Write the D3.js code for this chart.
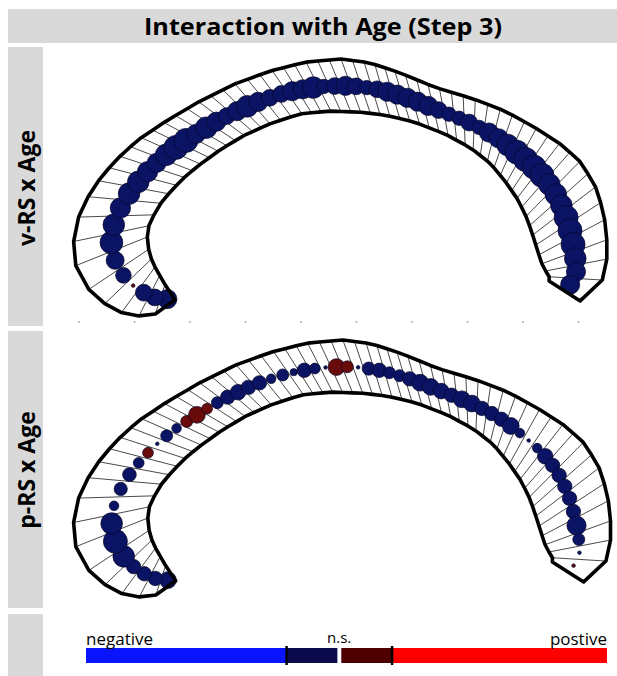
<!DOCTYPE html>
<html>
<head>
<meta charset="utf-8">
<script src="https://cdnjs.cloudflare.com/ajax/libs/d3/7.8.5/d3.min.js"></script>
<style>
body { margin: 0; background: #fff; }
text { font-family: "Open Sans", "Noto Sans", sans-serif; }
</style>
</head>
<body>
<svg id="chart" width="617" height="676"></svg>
<script>
// outline of the callosum, from the anterior tip (left hook) round to the posterior end
var outerX = [17.3,15.1,12.4,9.2,6.1,3.2,0.9,-0.5,-1.1,-0.7,0.4,2.0,4.1,7.0,10.6,15.7,21.8,28.1,34.4,40.7,47.0,52.4,57.8,64.1,70.5,76.8,82.2,87.0,90.6,93.2,94.6,95.1,95.1,93.7,90.3];
var outerY = [4.0,1.8,1.1,1.1,2.3,4.3,6.8,9.7,13.3,16.9,20.4,23.2,26.3,29.5,32.8,36.2,39.8,42.9,45.2,46.8,47.4,46.7,44.9,42.3,40.4,38.0,35.0,31.9,28.6,24.1,19.5,14.8,10.3,5.6,3.8];
var innerX = [17.1,16.0,15.0,14.1,13.3,12.8,12.4,12.3,12.4,13.0,13.9,15.0,16.6,18.7,21.4,25.4,29.9,34.4,39.8,45.2,50.6,55.1,60.5,65.9,70.5,74.1,76.9,79.1,80.7,81.8,82.7,83.4,84.3,85.0,84.7];
var innerY = [4.3,5.9,7.6,9.2,10.6,12.1,13.7,15.1,16.8,18.4,20.0,21.8,23.6,25.8,28.1,31.0,33.7,35.7,37.5,38.0,37.8,37.3,36.0,33.9,31.4,28.6,25.2,22.0,18.7,15.5,12.6,10.5,8.8,7.7,7.4];
// segment number reached at each outline vertex
var outlineSegment = [0,0.5,1.5,2.5,3.5,4.5,5.3,5.9,6.7,7.6,8.3,9.2,10.3,11.8,13.7,16.2,19.1,22.0,24.8,27.9,30.9,33.5,36.5,39.6,42.6,45.4,47.9,50.2,52.2,54.1,55.7,57.0,58.3,59.5,60];

// per segment effect size and sign (-1 negative n.s., 1 positive n.s.)
var vEffect = [.8,.7,.7,.15,.65,.75,.95,.9,.85,.9,.9,.85,.8,.9,1,1,.8,.9,.8,.7,.8,.9,.8,.7,.7,.8,.8,.9,
               .6,.7,.8,.7,.6,.7,.8,.8,.8,.8,.8,.7,.6,.6,.7,.6,.8,.8,.9,1,1,1,1,.9,.9,.9,1,1,1,.9,.8,.8];
var vSign = [-1,-1,-1,1,-1,-1,-1,-1,-1,-1,-1,-1,-1,-1,-1,-1,-1,-1,-1,-1,-1,-1,-1,-1,-1,-1,-1,-1,
             -1,-1,-1,-1,-1,-1,-1,-1,-1,-1,-1,-1,-1,-1,-1,-1,-1,-1,-1,-1,-1,-1,-1,-1,-1,-1,-1,-1,-1,-1,-1,-1];
var pEffect = [.7,.6,.6,.6,.9,1,.9,.4,.55,.57,.45,.45,.15,.5,.4,.5,.7,.45,.5,.6,.65,.6,.6,.4,.5,.3,.6,.45,
               .15,.7,.5,.15,.55,.6,.5,.5,.6,.7,.7,.65,.6,.7,.7,.6,.6,.6,.7,.4,.15,.4,.65,.6,.6,.6,.6,.6,.8,.5,.15,.15];
var pSign = [-1,-1,-1,-1,-1,-1,-1,-1,-1,-1,-1,1,-1,-1,-1,1,1,1,-1,-1,-1,-1,-1,-1,-1,-1,-1,-1,
             -1,1,1,-1,-1,-1,-1,-1,-1,-1,-1,-1,-1,-1,-1,-1,-1,-1,-1,-1,-1,-1,-1,-1,-1,-1,-1,-1,-1,-1,-1,1];

var panelLabels = ["v-RS x Age", "p-RS x Age"];
var xTicks = [0,10,20,30,40,50,60,70,80,90];
var legendLabels = ["negative", "n.s.", "postive"];
var legendEdges = [[-1,-0.23],[-0.23,-0.035],[-0.02,0.175],[0.175,1]];
var legendColors = ["#0a14ff","#0a0a4c","#4e0000","#ff0000"];

var svg = d3.select("#chart");
var grey = "#d9d9d9";

// header and side panels
svg.append("rect").attr("x", 8).attr("y", 9).attr("width", 609).attr("height", 34).attr("fill", grey);
svg.append("text")
   .attr("x", 323).attr("y", 35)
   .attr("text-anchor", "middle")
   .attr("font-size", "24px")
   .attr("font-weight", "bold")
   .attr("textLength", 358)
   .attr("lengthAdjust", "spacingAndGlyphs")
   .attr("fill", "#000")
   .text("Interaction with Age (Step 3)");

var sideBoxes = [[47,279],[331,277],[614,62]];
sideBoxes.forEach(function(b){
    svg.append("rect").attr("x", 8).attr("y", b[0]).attr("width", 35).attr("height", b[1]).attr("fill", grey);
});

// cut the outline into segments at the vertex segment numbers
var N = vEffect.length;
var lines = d3.range(N + 1).map(function(i){
    var k = Math.min(Math.max(d3.bisectRight(outlineSegment, i) - 1, 0), outlineSegment.length - 2);
    var t = (i - outlineSegment[k]) / (outlineSegment[k+1] - outlineSegment[k]);
    return {
        ox: outerX[k] + t * (outerX[k+1] - outerX[k]),
        oy: outerY[k] + t * (outerY[k+1] - outerY[k]),
        ix: innerX[k] + t * (innerX[k+1] - innerX[k]),
        iy: innerY[k] + t * (innerY[k+1] - innerY[k])
    };
});
var cells = d3.range(N).map(function(i){
    var a = lines[i], b = lines[i+1];
    return { x: (a.ox + a.ix + b.ox + b.ix) / 4, y: (a.oy + a.iy + b.oy + b.iy) / 4 };
});

var rScale = d3.scaleLinear().domain([0, 1]).range([0, 12]);
var color = d3.scaleOrdinal().domain([-1, 1]).range(["#0b1464", "#6a0b0b"]);

function drawPanel(p, effect, sign, top, xRight) {
    var x = d3.scaleLinear().domain([0, 90]).range([79, xRight]),
        y = d3.scaleLinear().domain([0, 47]).range([top, top - 47 * 5.55]);
    var g = svg.append("g");

    if (p == 0) {
        g.selectAll(".tick")
         .data(xTicks)
         .enter().append("circle")
         .attr("cx", function(d){ return x(d); })
         .attr("cy", y(0))
         .attr("r", 0.9)
         .attr("fill", "#aaa");
    }

    // outline vertices are the segment ends
    var outline = lines.map(function(d){ return [x(d.ox), y(d.oy)]; })
        .concat(lines.slice().reverse().map(function(d){ return [x(d.ix), y(d.iy)]; }));

    g.selectAll(".seg")
     .data(lines)
     .enter().append("line")
     .attr("x1", function(d){ return x(d.ox); })
     .attr("y1", function(d){ return y(d.oy); })
     .attr("x2", function(d){ return x(d.ix); })
     .attr("y2", function(d){ return y(d.iy); })
     .attr("stroke", "#4a4a4a")
     .attr("stroke-width", 1);

    g.selectAll(".dot")
     .data(cells)
     .enter().append("circle")
     .attr("cx", function(d){ return x(d.x); })
     .attr("cy", function(d){ return y(d.y); })
     .attr("r", function(d, i){ return rScale(effect[i]); })
     .attr("fill", function(d, i){ return color(sign[i]); })
     .attr("stroke", "#050525")
     .attr("stroke-width", 0.7);

    g.append("path")
     .attr("d", d3.line()(outline) + "Z")
     .attr("fill", "none")
     .attr("stroke", "#000")
     .attr("stroke-width", 3.6)
     .attr("stroke-linejoin", "round");

    svg.append("text")
       .attr("transform", "translate(35," + (p == 0 ? 188 : 470) + ") rotate(-90)")
       .attr("text-anchor", "middle")
       .attr("font-size", "23px")
       .attr("font-weight", "bold")
       .attr("fill", "#000")
       .text(panelLabels[p]);
}

drawPanel(0, vEffect, vSign, 322, 578.5);
drawPanel(1, pEffect, pSign, 603, 582);

// legend bar
var lx = d3.scaleLinear().domain([-1, 1]).range([86, 607]);
var lg = svg.append("g");
lg.selectAll("rect")
  .data(legendEdges)
  .enter().append("rect")
  .attr("x", function(d){ return lx(d[0]); })
  .attr("y", 648)
  .attr("width", function(d){ return lx(d[1]) - lx(d[0]); })
  .attr("height", 15)
  .attr("fill", function(d, i){ return legendColors[i]; });
lg.selectAll(".cut")
  .data([legendEdges[0][1], legendEdges[2][1]])
  .enter().append("line")
  .attr("x1", function(d){ return lx(d); })
  .attr("x2", function(d){ return lx(d); })
  .attr("y1", 646).attr("y2", 665)
  .attr("stroke", "#000").attr("stroke-width", 2.5);
lg.append("text").attr("x", lx(-1)).attr("y", 645).attr("font-size", "17px").text(legendLabels[0]);
lg.append("text").attr("x", lx(-0.028)).attr("y", 643).attr("text-anchor", "middle").attr("font-size", "15px").text(legendLabels[1]);
lg.append("text").attr("x", lx(1)).attr("y", 645).attr("text-anchor", "end").attr("font-size", "17px").text(legendLabels[2]);
</script>
</body>
</html>
